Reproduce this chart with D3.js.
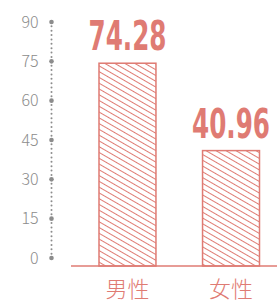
<!DOCTYPE html>
<html>
<head>
<meta charset="utf-8">
<script src="https://cdnjs.cloudflare.com/ajax/libs/d3/7.8.5/d3.min.js"></script>
<style>
  body { margin: 0; background: #fff; }
</style>
</head>
<body>
<div class="vis-area"></div>
<script>
var width = 277;
var height = 303;
var color = '#df7b73';

// data
var categories = ['男性', '女性'];
var values = [74.28, 40.96];
var tickValues = [0, 15, 30, 45, 60, 75, 90];

var svg = d3.select('.vis-area')
  .append('svg')
  .attr('width', width)
  .attr('height', height);

// hatch pattern
var defs = svg.append('defs');
defs.append('pattern')
  .attr('id', 'hatch')
  .attr('patternUnits', 'userSpaceOnUse')
  .attr('width', 10)
  .attr('height', 5)
  .attr('patternTransform', 'rotate(30)')
  .append('line')
  .attr('x1', 0).attr('y1', 2.5)
  .attr('x2', 10).attr('y2', 2.5)
  .attr('stroke', color)
  .attr('stroke-width', 1);

var y = d3.scaleLinear().domain([0, 90]).range([258, 22]);
var x = d3.scaleBand().domain(categories).range([99, 259.5]).paddingInner(0.45).paddingOuter(0);
var baseY = 266;
var axisX = 51.5;

// dotted axis
var small = [];
for (var i = 0; i < tickValues.length - 1; i++) {
  var a = y(tickValues[i]), b = y(tickValues[i + 1]);
  for (var k = 1; k < 9; k++) small.push(a + (b - a) * k / 9);
}
svg.selectAll('.small-dot')
  .data(small)
  .enter()
  .append('circle')
  .attr('class', 'small-dot')
  .attr('cx', axisX)
  .attr('cy', d => d)
  .attr('r', 1)
  .attr('fill', '#8c8c8c');

svg.selectAll('.tick-dot')
  .data(tickValues)
  .enter()
  .append('circle')
  .attr('class', 'tick-dot')
  .attr('cx', axisX)
  .attr('cy', d => y(d))
  .attr('r', 2.3)
  .attr('fill', '#8c8c8c');

svg.selectAll('.tick-label')
  .data(tickValues)
  .enter()
  .append('text')
  .attr('class', 'tick-label')
  .attr('x', 38.5)
  .attr('y', d => y(d))
  .attr('dy', '0.36em')
  .attr('text-anchor', 'end')
  .attr('font-family', 'Noto Sans CJK SC, Noto Sans, sans-serif')
  .attr('font-weight', 300)
  .attr('font-size', 16)
  .attr('fill', '#8c8c8c')
  .text(d => d);

// bars
svg.selectAll('.bar')
  .data(values)
  .enter()
  .append('rect')
  .attr('class', 'bar')
  .attr('x', (d, i) => x(categories[i]))
  .attr('y', d => y(d))
  .attr('width', x.bandwidth())
  .attr('height', d => baseY - y(d))
  .attr('fill', 'url(#hatch)')
  .attr('stroke', color)
  .attr('stroke-width', 1.5);

// baseline
svg.append('line')
  .attr('x1', 71).attr('x2', width)
  .attr('y1', baseY).attr('y2', baseY)
  .attr('stroke', color)
  .attr('stroke-width', 1.6);

// value labels
svg.selectAll('.value')
  .data(values)
  .enter()
  .append('text')
  .attr('class', 'value')
  .attr('x', (d, i) => x(categories[i]) + x.bandwidth() / 2)
  .attr('y', d => y(d) - 13)
  .attr('text-anchor', 'middle')
  .attr('font-family', 'DejaVu Sans Condensed, DejaVu Sans, sans-serif')
  .attr('font-weight', 'bold')
  .attr('font-size', 40)
  .attr('textLength', 78)
  .attr('lengthAdjust', 'spacingAndGlyphs')
  .attr('fill', color)
  .text(d => d.toFixed(2));

// category labels
svg.selectAll('.cat')
  .data(categories)
  .enter()
  .append('text')
  .attr('class', 'cat')
  .attr('x', d => x(d) + x.bandwidth() / 2)
  .attr('y', 297)
  .attr('text-anchor', 'middle')
  .attr('font-family', 'Noto Sans CJK SC, sans-serif')
  .attr('font-weight', 300)
  .attr('font-size', 22)
  .attr('fill', color)
  .text(d => d);
</script>
</body>
</html>
